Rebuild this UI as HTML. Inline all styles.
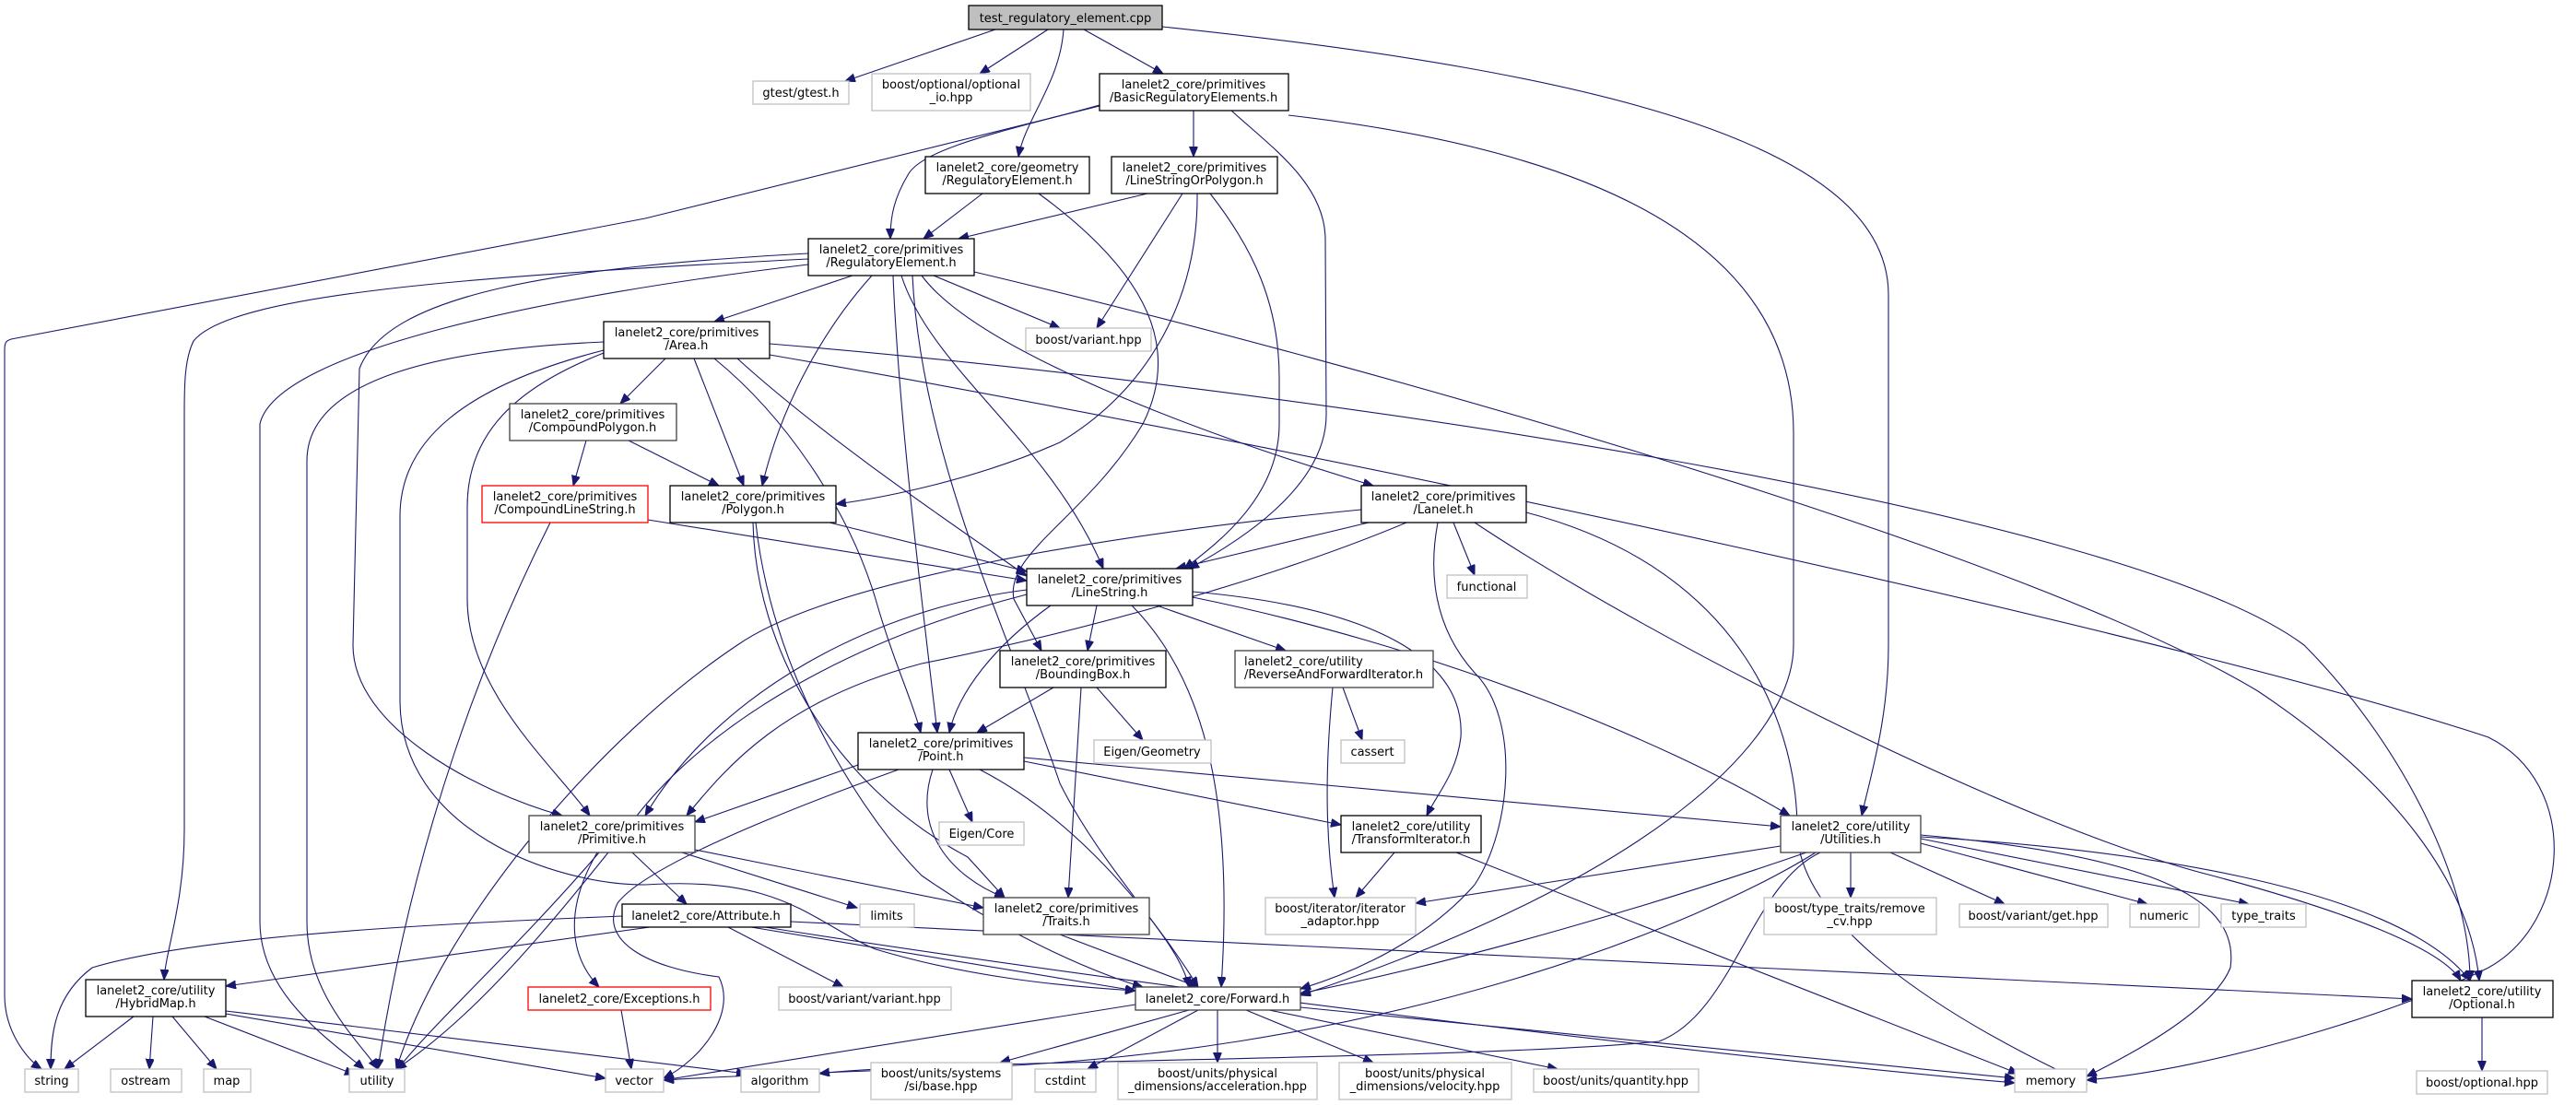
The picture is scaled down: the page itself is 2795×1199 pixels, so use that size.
<!DOCTYPE html>
<html><head><meta charset="utf-8"><style>
html,body{margin:0;padding:0;background:#fff;}
svg{display:block;}
text{font-family:"DejaVu Sans","Liberation Sans",sans-serif;font-size:13px;fill:#000;}
.g rect{fill:#fff;stroke:#bfbfbf;stroke-width:1.3}
.b rect{fill:#fff;stroke:#000;stroke-width:1.3}
.d rect{fill:#fff;stroke:#404040;stroke-width:1.3}
.r rect{fill:#fff;stroke:#ff0000;stroke-width:1.3}
.e path{fill:none;stroke:#191970;stroke-width:1.1}
</style></head><body>
<svg width="2795" height="1199" viewBox="0 0 2795 1199" xmlns="http://www.w3.org/2000/svg">
<defs><marker id="a" markerUnits="userSpaceOnUse" markerWidth="12" markerHeight="10" refX="11" refY="4.5" orient="auto"><path d="M0,0 L11,4.5 L0,9 z" fill="#191970" stroke="#191970"/></marker></defs>
<g class="e" marker-end="url(#a)">
<path d="M1080,32 L917,88"/>
<path d="M1137,32 L1063,80"/>
<path d="M1154,32 C1150,90 1112,130 1105,170"/>
<path d="M1176,32 L1262,80"/>
<path d="M1261,29 C1750,80 2049,160 2049,320 L2049,700 C2049,780 2030,840 2020,885"/>
<path d="M1193,115 L700,237 L12,368 C6,370 5,372 5,380 L5,1080 C5,1120 30,1150 45,1160"/>
<path d="M1193,114 C1100,140 1000,160 985,190 C970,215 966,235 966,259"/>
<path d="M1295,120 L1295,170"/>
<path d="M1336,120 C1380,160 1438,200 1438,260 L1439,450 C1439,530 1340,590 1290,617"/>
<path d="M1398,125 C1700,160 1946,250 1946,470 L1946,700 C1946,800 1800,950 1411,1080"/>
<path d="M1066,210 L1002,259"/>
<path d="M1127,210 C1250,300 1280,380 1240,460 C1180,560 1090,600 1100,650 L1130,706"/>
<path d="M1245,210 L1040,259"/>
<path d="M1283,210 L1190,356"/>
<path d="M1299,210 C1300,320 1250,420 1150,480 C1060,520 960,540 907,547"/>
<path d="M1313,210 C1360,270 1388,330 1388,410 L1388,460 C1388,540 1320,590 1285,617"/>
<path d="M925,299 L775,349"/>
<path d="M1013,299 L1150,356"/>
<path d="M946,299 C900,350 850,430 827,527"/>
<path d="M978,299 C1010,400 1140,480 1197,617"/>
<path d="M969,299 C975,450 1000,650 1017,795"/>
<path d="M1000,299 C1060,380 1300,470 1490,527"/>
<path d="M877,275 C600,290 420,320 390,400 L383,700 C383,790 520,860 610,885"/>
<path d="M877,281 C500,300 250,320 210,370 C200,390 200,420 200,450 L200,900 C200,980 180,1030 178,1063"/>
<path d="M877,287 C600,320 300,380 282,460 L282,1000 C282,1080 360,1130 395,1160"/>
<path d="M1057,295 C1500,400 2200,600 2450,750 C2600,850 2680,960 2690,1064"/>
<path d="M990,299 C1000,500 1100,700 1150,850 C1200,950 1280,1020 1290,1071"/>
<path d="M722,389 L673,438"/>
<path d="M753,389 L807,527"/>
<path d="M775,389 C850,450 920,550 950,650 C970,720 990,760 999,795"/>
<path d="M835,373 C1400,420 2300,550 2500,700 C2600,800 2680,950 2680,1064"/>
<path d="M835,385 C1500,500 2400,700 2700,800 C2800,850 2790,1000 2700,1050 C2600,1100 2400,1160 2264,1172"/>
<path d="M655,371 C450,380 333,420 333,500 L333,1000 C333,1080 390,1130 410,1160"/>
<path d="M655,383 C560,420 507,470 507,550 L507,650 C507,750 600,830 640,885"/>
<path d="M655,380 C500,420 434,480 434,560 L434,760 C434,900 600,960 700,960 C850,950 880,1000 950,1030 C1050,1060 1150,1070 1232,1075"/>
<path d="M800,389 C900,480 1050,580 1114,625"/>
<path d="M636,478 L622,527"/>
<path d="M682,478 L780,527"/>
<path d="M703,564 L1114,630"/>
<path d="M597,567 C530,700 450,900 410,1160"/>
<path d="M900,567 L1114,620"/>
<path d="M817,567 C820,700 900,850 1050,930 L1090,974"/>
<path d="M820,567 C840,750 950,900 1000,950 C1100,1020 1200,1060 1240,1071"/>
<path d="M1485,567 L1276,617"/>
<path d="M1526,567 C1400,620 1200,680 1000,720 C850,760 790,830 745,885"/>
<path d="M1477,553 C1200,580 900,630 800,700 C650,800 480,1000 430,1160"/>
<path d="M1577,567 L1600,624"/>
<path d="M1560,567 C1550,620 1555,680 1600,730 C1650,780 1640,900 1600,960 C1530,1040 1420,1070 1411,1073"/>
<path d="M1600,567 C1800,700 2200,900 2400,950 C2550,990 2650,1030 2670,1064"/>
<path d="M1656,556 C1900,620 1950,800 1950,900 C1950,1000 2100,1100 2264,1176"/>
<path d="M1190,657 L1180,706"/>
<path d="M1255,657 L1395,706"/>
<path d="M1140,657 C1080,700 1040,750 1030,795"/>
<path d="M1114,640 C950,660 780,750 700,885"/>
<path d="M1114,645 C900,700 750,800 680,900 C600,1000 520,1100 430,1160"/>
<path d="M1228,657 C1300,730 1340,850 1325,1071"/>
<path d="M1294,642 C1500,660 1590,720 1585,800 C1580,840 1560,860 1548,885"/>
<path d="M1294,648 C1550,700 1800,800 1942,885"/>
<path d="M1143,746 L1060,795"/>
<path d="M1190,746 L1240,803"/>
<path d="M1173,746 L1159,974"/>
<path d="M1446,746 C1436,850 1440,920 1448,974"/>
<path d="M1457,746 L1478,803"/>
<path d="M931,830 L754,892"/>
<path d="M1030,835 L1055,892"/>
<path d="M1012,835 C990,900 1030,950 1090,974"/>
<path d="M1063,835 C1150,880 1230,960 1300,1071"/>
<path d="M1111,826 L1455,895"/>
<path d="M1111,822 L1932,897"/>
<path d="M975,835 C850,880 700,940 670,980 C650,1020 700,1050 780,1060 C800,1100 760,1150 720,1170"/>
<path d="M686,925 L745,981"/>
<path d="M648,925 C610,990 620,1040 650,1071"/>
<path d="M740,925 L930,985"/>
<path d="M754,922 L1067,985"/>
<path d="M650,925 C560,1030 470,1110 430,1162"/>
<path d="M1513,925 L1471,974"/>
<path d="M1580,925 L2190,1165"/>
<path d="M1932,918 L1536,980"/>
<path d="M1960,925 C1800,980 1600,1040 1411,1078"/>
<path d="M1970,925 C1850,1000 1500,1150 1000,1160 C850,1165 750,1170 720,1172"/>
<path d="M1975,925 C1900,960 1880,1100 1800,1130 C1600,1150 1000,1150 889,1165"/>
<path d="M2008,925 L2008,974"/>
<path d="M2051,925 L2175,981"/>
<path d="M2084,915 L2330,981"/>
<path d="M2084,910 L2440,981"/>
<path d="M2084,908 C2300,920 2600,960 2680,1064"/>
<path d="M2084,906 C2350,930 2430,980 2420,1050 C2400,1100 2300,1150 2264,1168"/>
<path d="M1150,1014 L1300,1071"/>
<path d="M705,1006 L245,1070"/>
<path d="M675,994 C400,1005 200,1020 100,1050 C60,1080 55,1120 55,1160"/>
<path d="M790,1006 L915,1071"/>
<path d="M815,1006 L1232,1075"/>
<path d="M858,1000 C1400,1030 2000,1060 2617,1084"/>
<path d="M830,1006 C1300,1080 1900,1150 2186,1175"/>
<path d="M145,1103 L70,1160"/>
<path d="M166,1103 L162,1160"/>
<path d="M187,1103 L235,1160"/>
<path d="M222,1103 L385,1166"/>
<path d="M245,1100 L657,1170"/>
<path d="M245,1097 L810,1165"/>
<path d="M674,1096 L685,1160"/>
<path d="M1232,1090 L720,1172"/>
<path d="M1290,1096 L1085,1153"/>
<path d="M1300,1096 L1180,1160"/>
<path d="M1321,1096 L1321,1153"/>
<path d="M1352,1096 L1490,1153"/>
<path d="M1377,1096 L1690,1160"/>
<path d="M1411,1093 L2186,1170"/>
<path d="M2693,1104 L2693,1162"/>
</g>

<g class="g">
<g style="fill:#bfbfbf"></g>
<rect x="817" y="88" width="104" height="25"/><text x="869" y="105" text-anchor="middle">gtest/gtest.h</text>
<rect x="946" y="80" width="172" height="40"/><text x="1032" y="96" text-anchor="middle">boost/optional/optional</text><text x="1032" y="110" text-anchor="middle">_io.hpp</text>
<rect x="1113" y="356" width="136" height="25"/><text x="1181" y="373" text-anchor="middle">boost/variant.hpp</text>
<rect x="1570" y="624" width="87" height="25"/><text x="1613" y="641" text-anchor="middle">functional</text>
<rect x="1187" y="803" width="127" height="25"/><text x="1250" y="820" text-anchor="middle">Eigen/Geometry</text>
<rect x="1455" y="803" width="69" height="25"/><text x="1489" y="820" text-anchor="middle">cassert</text>
<rect x="1019" y="892" width="92" height="25"/><text x="1065" y="909" text-anchor="middle">Eigen/Core</text>
<rect x="1373" y="974" width="163" height="40"/><text x="1454" y="990" text-anchor="middle">boost/iterator/iterator</text><text x="1454" y="1004" text-anchor="middle">_adaptor.hpp</text>
<rect x="1914" y="974" width="187" height="40"/><text x="2007" y="990" text-anchor="middle">boost/type_traits/remove</text><text x="2007" y="1004" text-anchor="middle">_cv.hpp</text>
<rect x="933" y="981" width="59" height="25"/><text x="962" y="998" text-anchor="middle">limits</text>
<rect x="2126" y="981" width="161" height="25"/><text x="2206" y="998" text-anchor="middle">boost/variant/get.hpp</text>
<rect x="2311" y="981" width="75" height="25"/><text x="2348" y="998" text-anchor="middle">numeric</text>
<rect x="2410" y="981" width="92" height="25"/><text x="2456" y="998" text-anchor="middle">type_traits</text>
<rect x="845" y="1071" width="187" height="25"/><text x="938" y="1088" text-anchor="middle">boost/variant/variant.hpp</text>
<rect x="27" y="1160" width="58" height="25"/><text x="56" y="1177" text-anchor="middle">string</text>
<rect x="120" y="1160" width="77" height="25"/><text x="158" y="1177" text-anchor="middle">ostream</text>
<rect x="221" y="1160" width="51" height="25"/><text x="246" y="1177" text-anchor="middle">map</text>
<rect x="379" y="1160" width="60" height="25"/><text x="409" y="1177" text-anchor="middle">utility</text>
<rect x="657" y="1160" width="63" height="25"/><text x="688" y="1177" text-anchor="middle">vector</text>
<rect x="804" y="1160" width="85" height="25"/><text x="846" y="1177" text-anchor="middle">algorithm</text>
<rect x="945" y="1153" width="153" height="40"/><text x="1021" y="1169" text-anchor="middle">boost/units/systems</text><text x="1021" y="1183" text-anchor="middle">/si/base.hpp</text>
<rect x="1123" y="1160" width="66" height="25"/><text x="1156" y="1177" text-anchor="middle">cstdint</text>
<rect x="1213" y="1153" width="216" height="40"/><text x="1321" y="1169" text-anchor="middle">boost/units/physical</text><text x="1321" y="1183" text-anchor="middle">_dimensions/acceleration.hpp</text>
<rect x="1453" y="1153" width="187" height="40"/><text x="1546" y="1169" text-anchor="middle">boost/units/physical</text><text x="1546" y="1183" text-anchor="middle">_dimensions/velocity.hpp</text>
<rect x="1664" y="1160" width="179" height="25"/><text x="1753" y="1177" text-anchor="middle">boost/units/quantity.hpp</text>
<rect x="2186" y="1160" width="78" height="25"/><text x="2225" y="1177" text-anchor="middle">memory</text>
<rect x="2622" y="1162" width="142" height="25"/><text x="2693" y="1179" text-anchor="middle">boost/optional.hpp</text>
</g>

<rect x="1051" y="6" width="210" height="26" fill="#bfbfbf" stroke="#000" stroke-width="1.3"/>
<text x="1156" y="24" text-anchor="middle">test_regulatory_element.cpp</text>

<g class="b">
<rect x="1193" y="80" width="205" height="40"/><text x="1295" y="96" text-anchor="middle">lanelet2_core/primitives</text><text x="1295" y="110" text-anchor="middle">/BasicRegulatoryElements.h</text>
<rect x="1004" y="170" width="178" height="40"/><text x="1093" y="186" text-anchor="middle">lanelet2_core/geometry</text><text x="1093" y="200" text-anchor="middle">/RegulatoryElement.h</text>
<rect x="1206" y="170" width="180" height="40"/><text x="1296" y="186" text-anchor="middle">lanelet2_core/primitives</text><text x="1296" y="200" text-anchor="middle">/LineStringOrPolygon.h</text>
<rect x="877" y="259" width="180" height="40"/><text x="967" y="275" text-anchor="middle">lanelet2_core/primitives</text><text x="967" y="289" text-anchor="middle">/RegulatoryElement.h</text>
<rect x="655" y="349" width="180" height="40"/><text x="745" y="365" text-anchor="middle">lanelet2_core/primitives</text><text x="745" y="379" text-anchor="middle">/Area.h</text>
<rect x="727" y="527" width="180" height="40"/><text x="817" y="543" text-anchor="middle">lanelet2_core/primitives</text><text x="817" y="557" text-anchor="middle">/Polygon.h</text>
<rect x="1477" y="527" width="179" height="40"/><text x="1566" y="543" text-anchor="middle">lanelet2_core/primitives</text><text x="1566" y="557" text-anchor="middle">/Lanelet.h</text>
<rect x="1114" y="617" width="180" height="40"/><text x="1204" y="633" text-anchor="middle">lanelet2_core/primitives</text><text x="1204" y="647" text-anchor="middle">/LineString.h</text>
<rect x="1085" y="706" width="180" height="40"/><text x="1175" y="722" text-anchor="middle">lanelet2_core/primitives</text><text x="1175" y="736" text-anchor="middle">/BoundingBox.h</text>
<rect x="931" y="795" width="180" height="40"/><text x="1021" y="811" text-anchor="middle">lanelet2_core/primitives</text><text x="1021" y="825" text-anchor="middle">/Point.h</text>
<rect x="1455" y="885" width="152" height="40"/><text x="1531" y="901" text-anchor="middle">lanelet2_core/utility</text><text x="1531" y="915" text-anchor="middle">/TransformIterator.h</text>
<rect x="675" y="981" width="183" height="25"/><text x="766" y="998" text-anchor="middle">lanelet2_core/Attribute.h</text>
<rect x="93" y="1063" width="152" height="40"/><text x="169" y="1079" text-anchor="middle">lanelet2_core/utility</text><text x="169" y="1093" text-anchor="middle">/HybridMap.h</text>
<rect x="2617" y="1064" width="153" height="40"/><text x="2693" y="1080" text-anchor="middle">lanelet2_core/utility</text><text x="2693" y="1094" text-anchor="middle">/Optional.h</text>
</g>
<g class="d">
<rect x="553" y="438" width="181" height="40"/><text x="643" y="454" text-anchor="middle">lanelet2_core/primitives</text><text x="643" y="468" text-anchor="middle">/CompoundPolygon.h</text>
<rect x="1340" y="706" width="215" height="40"/><text x="1350" y="722">lanelet2_core/utility</text><text x="1350" y="736">/ReverseAndForwardIterator.h</text>
<rect x="574" y="885" width="180" height="40"/><text x="664" y="901" text-anchor="middle">lanelet2_core/primitives</text><text x="664" y="915" text-anchor="middle">/Primitive.h</text>
<rect x="1932" y="885" width="152" height="40"/><text x="2008" y="901" text-anchor="middle">lanelet2_core/utility</text><text x="2008" y="915" text-anchor="middle">/Utilities.h</text>
<rect x="1067" y="974" width="180" height="40"/><text x="1157" y="990" text-anchor="middle">lanelet2_core/primitives</text><text x="1157" y="1004" text-anchor="middle">/Traits.h</text>
<rect x="1232" y="1071" width="179" height="25"/><text x="1321" y="1088" text-anchor="middle">lanelet2_core/Forward.h</text>
</g>
<g class="r">
<rect x="523" y="527" width="180" height="40"/><text x="613" y="543" text-anchor="middle">lanelet2_core/primitives</text><text x="613" y="557" text-anchor="middle">/CompoundLineString.h</text>
<rect x="573" y="1071" width="198" height="25"/><text x="672" y="1088" text-anchor="middle">lanelet2_core/Exceptions.h</text>
</g>
</svg>
</body></html>
